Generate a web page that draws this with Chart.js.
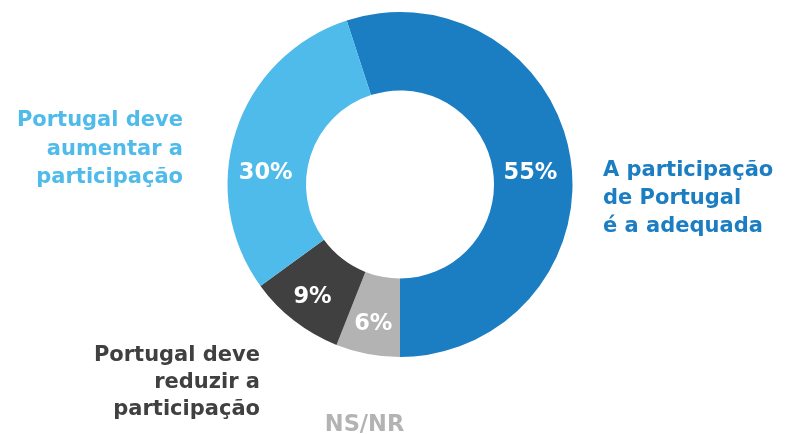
<!DOCTYPE html>
<html>
<head>
<meta charset="utf-8">
<script src="https://cdn.jsdelivr.net/npm/chart.js@4"></script>
<style>
html,body{margin:0;padding:0;background:#fff;}
#wrap{width:785px;height:434px;position:relative;}
</style>
</head>
<body>
<div id="wrap"><canvas id="c" width="785" height="434"></canvas></div>
<script>
const categories = ['A participação de Portugal é a adequada', 'NS/NR', 'Portugal deve reduzir a participação', 'Portugal deve aumentar a participação'];
const categoryLines = [
  ['A participação', 'de Portugal', 'é a adequada'],
  ['NS/NR'],
  ['Portugal deve', 'reduzir a', 'participação'],
  ['Portugal deve', 'aumentar a', 'participação']
];
const values = [55, 6, 9, 30];
const valueLabels = ['55%', '6%', '9%', '30%'];
const colors = ['#1b7dc2', '#b3b3b3', '#404040', '#4fbbea'];

const FONT = '"DejaVu Sans", sans-serif';

const labelPlugin = {
  id: 'customLabels',
  afterDraw(chart, args, opts) {
    const ctx = chart.ctx;
    const meta = chart.getDatasetMeta(0);
    ctx.save();
    ctx.font = '700 22.5px ' + FONT;
    ctx.fillStyle = '#ffffff';
    ctx.textAlign = 'center';
    ctx.textBaseline = 'middle';
    meta.data.forEach((arc, i) => {
      const p = arc.getProps(['x','y','startAngle','endAngle','innerRadius','outerRadius'], true);
      const ov = opts.inner[i] || {};
      const a = ov.angle !== undefined ? ov.angle * Math.PI / 180 : (p.startAngle + p.endAngle) / 2;
      const frac = ov.rFrac !== undefined ? ov.rFrac : 0.62;
      const r = p.innerRadius + frac * (p.outerRadius - p.innerRadius);
      ctx.fillText(valueLabels[i], p.x + r * Math.cos(a), p.y + r * Math.sin(a));
    });
    opts.outer.forEach((o, i) => {
      ctx.font = '700 ' + o.size + 'px ' + FONT;
      ctx.fillStyle = colors[i];
      ctx.textAlign = o.align;
      ctx.textBaseline = 'alphabetic';
      categoryLines[i].forEach((line, j) => {
        ctx.fillText(line, o.x, o.y + j * o.lh);
      });
    });
    ctx.restore();
  }
};

new Chart(document.getElementById('c'), {
  type: 'doughnut',
  data: {
    labels: categories,
    datasets: [{
      data: values,
      backgroundColor: colors,
      borderWidth: 0,
      hoverOffset: 0
    }]
  },
  options: {
    responsive: false,
    animation: false,
    rotation: -18,
    cutout: '54.5%',
    layout: { padding: { top: 12, bottom: 77, left: 15, right: 0 } },
    plugins: {
      legend: { display: false },
      tooltip: { enabled: false },
      customLabels: {
        inner: {
          0: { angle: -5, rFrac: 0.47 },
          3: { angle: 185, rFrac: 0.52 }
        },
        outer: [
          { x: 603, y: 176, lh: 28, align: 'left', size: 21 },
          { x: 364.5, y: 431, lh: 28, align: 'center', size: 22.5 },
          { x: 260, y: 361, lh: 27, align: 'right', size: 21 },
          { x: 183, y: 126, lh: 28.5, align: 'right', size: 21 }
        ]
      }
    }
  },
  plugins: [labelPlugin]
});
</script>
</body>
</html>
